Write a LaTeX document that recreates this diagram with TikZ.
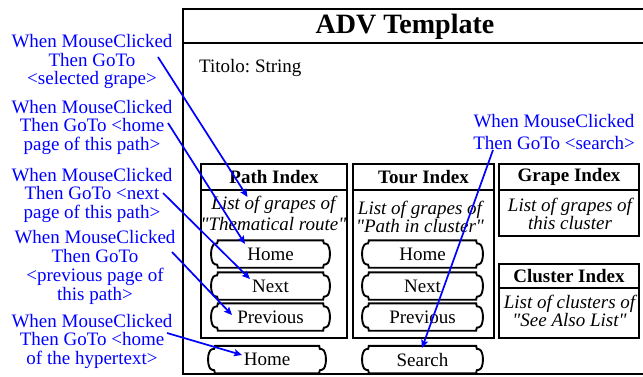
\documentclass[tikz,border=0pt]{standalone}
\usepackage{fontspec}
\setmainfont{Liberation Serif}[Ligatures=TeXOff]
\usetikzlibrary{calc,arrows.meta}
\frenchspacing
\begin{document}
\begin{tikzpicture}[x=1pt,y=-1pt,
  lbl/.style={text=blue, align=center, inner sep=0pt, font=\fontsize{19}{#1}\selectfont},
  conn/.style={blue, line width=1.7pt, -{Stealth[length=8pt,width=7pt,inset=1.5pt]}},
  frameline/.style={line width=2pt},
  hdr/.style={draw, line width=2pt, inner sep=0pt, minimum height=#1, font=\bfseries\fontsize{19}{20}\selectfont},
  bodybox/.style={draw, line width=2pt, inner sep=0pt, minimum height=#1},
  bodytxt/.style={align=center, inner sep=0pt, font=\itshape\fontsize{19}{#1}\selectfont},
  btn/.style={inner sep=0pt, minimum height=27pt, minimum width=#1, font=\fontsize{19}{20}\selectfont},
  btnline/.style={line width=1.9pt}]
\useasboundingbox (0,0) rectangle (643,376);
\clip (0,0) rectangle (643,376);

% main frame
\draw[frameline] (660,9) -- (183,9) -- (183,374) -- (660,374);
\draw[frameline] (183,43) -- (660,43);
\node[inner sep=0pt, font=\bfseries\fontsize{28}{30}\selectfont] (title) at (405,27) {ADV Template};
\node[anchor=west, inner sep=0pt, font=\fontsize{19}{20}\selectfont] (titolo) at (199,68) {Titolo: String};

% Path Index
\node[hdr=26pt, minimum width=146pt] (pathh) at (274,177) {Path Index};
\node[bodybox=148pt, minimum width=146pt] (pathb) at (274,264) {};
\node[bodytxt=21] (patht) at (273.5,213.5) {List of grapes of\\"Thematical route"};
% Tour Index
\node[hdr=26pt, minimum width=141pt] (tourh) at (423.5,177) {Tour Index};
\node[bodybox=148pt, minimum width=141pt] (tourb) at (423.5,264) {};
\node[bodytxt=18.5] (tourt) at (420,217) {List of grapes of\\"Path in cluster"};
% Grape Index
\node[hdr=26pt, minimum width=140pt] (grapeh) at (569,177) {Grape Index};
\node[bodybox=46pt, minimum width=140pt] (grapeb) at (569,213) {};
\node[bodytxt=18.5] (grapet) at (570,214) {List of grapes of\\this cluster};
% Cluster Index
\node[hdr=24pt, minimum width=140pt] (clush) at (569,276) {Cluster Index};
\node[bodybox=50pt, minimum width=140pt] (clusb) at (569,313) {};
\node[bodytxt=18.5] (clust) at (569.5,311) {List of clusters of\\"See Also List"};

% buttons
\node[btn=111pt] (ph) at (270.5,254) {Home};
\node[btn=111pt] (pn) at (270.5,286) {Next};
\node[btn=111pt] (pp) at (270.5,317) {Previous};
\node[btn=113pt] (th) at (422.5,254) {Home};
\node[btn=113pt] (tn) at (422.5,286) {Next};
\node[btn=113pt] (tp) at (422.5,317) {Previous};
\node[btn=110pt] (bh) at (267,359.5) {Home};
\node[btn=113pt] (bs) at (422.5,359.5) {Search};
\foreach \n in {ph,pn,pp,th,tn,tp,bh,bs}{
  \draw[btnline] ($(\n.north west)+(3,0)$) -- ($(\n.north east)+(-3,0)$)
    .. controls ($(\n.north east)+(-2.5,3.5)$) .. ($(\n.north east)+(0,3.5)$)
    .. controls ($(\n.north east)+(5,5)$) and ($(\n.south east)+(5,-5)$) .. ($(\n.south east)+(0,-3.5)$)
    .. controls ($(\n.south east)+(-2.5,-3.5)$) .. ($(\n.south east)+(-3,0)$)
    -- ($(\n.south west)+(3,0)$)
    .. controls ($(\n.south west)+(2.5,-3.5)$) .. ($(\n.south west)+(0,-3.5)$)
    .. controls ($(\n.south west)+(-5,-5)$) and ($(\n.north west)+(-5,5)$) .. ($(\n.north west)+(0,3.5)$)
    .. controls ($(\n.north west)+(2.5,3.5)$) .. cycle;
}

% labels
\node[lbl=18.5] (l1) at (92,61.5) {When MouseClicked\\Then GoTo\\<selected grape>};
\node[lbl=18.5] (l2) at (92,127) {When MouseClicked\\Then GoTo <home\\page of this path>};
\node[lbl=18.5] (l3) at (92,195) {When MouseClicked\\Then GoTo <next\\page of this path>};
\node[lbl=19] (l4) at (95,267.5) {When MouseClicked\\Then GoTo\\<previous page of\\this path>};
\node[lbl=18.5] (l5) at (92,341) {When MouseClicked\\Then GoTo <home\\of the hypertext>};
\node[lbl=22] (l6) at (554,131.5) {When MouseClicked\\Then GoTo <search>};

\coordinate (s1) at (158,57);
\coordinate (s2) at (168,123);
\coordinate (s3) at (163,193);
\coordinate (s4) at (172,252);
\coordinate (s5) at (167,333);
\coordinate (s6) at (493,150);

\draw[conn] (s1) -- ($(patht)+(-26,-16.5)$);
\draw[conn] (s2) -- ($(ph)+(-25.5,-10)$);
\draw[conn] (s3) -- ($(pn)+(-20.5,-7)$);
\draw[conn] (s4) -- ($(pp)+(-38.5,-2)$);
\draw[conn] (s5) -- ($(bh)+(-25,-4.5)$);
\draw[conn] (s6) -- ($(bs)+(-0.5,-11.5)$);
\end{tikzpicture}
\end{document}
